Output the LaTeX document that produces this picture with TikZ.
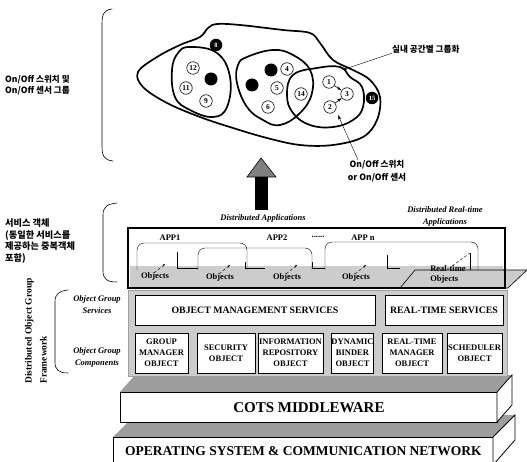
\documentclass[tikz,border=0pt]{standalone}
\usepackage{fontspec}
\setmainfont{Liberation Serif}
\newfontfamily\kor{Noto Sans CJK KR}
\usetikzlibrary{arrows.meta, positioning, calc}
\definecolor{dots}{gray}{0.62}
\definecolor{band}{gray}{0.80}

\tikzset{
  num/.style={circle, draw, semithick, fill=white, inner sep=0pt, minimum size=12.5pt,
    font=\bfseries\fontsize{7.5}{7.5}\selectfont},
  dot/.style={circle, fill=black, inner sep=0pt, minimum size=13pt},
  blk/.style={circle, fill=black, inner sep=0pt, minimum size=12.5pt, text=white,
    font=\bfseries\fontsize{6.5}{6.5}\selectfont},
  region/.style={line width=1.7pt, line join=round},
  kr/.style={font=\kor\bfseries\fontsize{8.6}{11.5}\selectfont, align=left, inner sep=0pt},
  brk/.style={semithick, line cap=round},
  lbl/.style={font=\bfseries\itshape\fontsize{8.5}{12}\selectfont, align=center, inner sep=0pt},
  app/.style={font=\bfseries\fontsize{8.5}{8.5}\selectfont, inner sep=0pt},
  obj/.style={font=\bfseries\fontsize{8.5}{10}\selectfont, align=left, inner sep=1pt},
  comp/.style={draw, semithick, fill=white, font=\bfseries\fontsize{8.5}{11}\selectfont,
    align=center, inner sep=0pt, minimum height=40pt},
  svc/.style={draw, semithick, fill=white, font=\bfseries\fontsize{9.8}{10}\selectfont,
    minimum height=30pt},
  layer/.style={draw, thick, fill=white, inner sep=0pt},
  pointer/.style={thin, -{Stealth[length=5pt, width=3pt]}},
}

\begin{document}
\begin{tikzpicture}[x=1pt, y=-1pt]
  \useasboundingbox (0,0) rectangle (527,462);

  % --- grouping of switches and sensors ---
  \draw[brk] (112,9) .. controls (104,10) and (102,14) .. (102,24) -- (102,146)
    .. controls (102,156) and (104,160) .. (113,161);
  \node[kr, anchor=west] (grp) at (5,85) {On/Off 스위치 및\\On/Off 센서 그룹};

  \draw[region] plot[smooth cycle, tension=0.6] coordinates {
    (138,72) (157,57) (180,45) (200,37) (208,28) (217,24) (240,25) (283,30)
    (310,33) (320,43) (333,60) (353,70) (370,80) (380,97) (377,120) (363,137)
    (333,145) (300,145) (267,138) (233,128) (200,117) (167,103) (143,87)};
  \draw[region] plot[smooth cycle, tension=0.7] coordinates {
    (190,47) (217,53) (230,77) (227,107) (213,117) (190,110) (175,97) (172,70) (178,53)};
  \draw[region] plot[smooth cycle, tension=0.7] coordinates {
    (247,57) (273,50) (293,55) (310,70) (312,93) (300,113) (280,125) (263,120)
    (247,107) (237,83) (238,65)};
  \draw[region] plot[smooth cycle, tension=0.7] coordinates {
    (293,75) (317,68) (340,67) (350,77) (362,87) (363,107) (353,120) (333,127)
    (310,125) (293,113) (287,95)};

  \foreach \n/\x/\y in {12/193/68, 11/186/88, 9/206/101, 4/287/69, 5/277/88,
                        6/268/107, 14/301/94, 1/329/82, 3/347/94, 2/330/107}
    \node[num] (n\n) at (\x,\y) {\n};
  \foreach \i/\x/\y in {a/211/79, b/271/70, c/252/85}
    \node[dot] (d\i) at (\x,\y) {};
  \node[blk] (n8) at (216,45) {8};
  \node[blk] (n15) at (372,98) {15};
  \draw[pointer, semithick] (n1) -- (n3);
  \draw[pointer, semithick] (n2) -- (n3);

  \node[kr, anchor=west] (room) at (392,49) {실내 공간별 그룹화};
  \coordinate (roomtip) at (342,70);
  \draw[pointer] (room.south west) -- (roomtip);
  \node[kr, align=center, font=\kor\bfseries\fontsize{8.6}{13}\selectfont] (dev) at (377,171)
    {On/Off 스위치\\or On/Off 센서};
  \coordinate (devtip) at (338,115);
  \draw[pointer] ($(dev.north)+(-19,0)$) -- (devtip);

  % --- up arrow ---
  \fill[black] (255,176) rectangle (268,210);
  \filldraw[fill=black!50, draw=black, semithick]
    (261,158) -- (276,177) -- (247,177) -- cycle;

  % --- service objects ---
  \draw[brk] (117,203) .. controls (107,204) and (103,207) .. (103,215) -- (103,271)
    .. controls (103,279) and (107,282) .. (117,282);
  \node[kr, anchor=west, font=\kor\bfseries\fontsize{9.2}{11.8}\selectfont] (svcobj) at (5,241)
    {서비스 객체\\(동일한 서비스를\\제공하는 중복객체\\포함)};
  \node[lbl] (dapp) at (263,218) {Distributed Applications};
  \node[lbl] (drt) at (445,216) {Distributed Real-time\\Applications};

  \filldraw[fill=band, draw=black, semithick] (400,288) -- (415,270) -- (527,270) -- (508,288) -- cycle;
  \fill[band] (130,266) rectangle (503,287);
  \draw[semithick] (400,288) -- (415,270) -- (505,270);
  \draw[line width=2.6pt] (128,228) rectangle (505,288);

  \node[app] (app1) at (170,238) {APP1};
  \node[app] (app2) at (277,238) {APP2};
  \node[app] (appdots) at (318,237) {......};
  \node[app] (appn) at (363,238) {APP n};
  \draw[thin, rounded corners=7pt] (137,270) -- (137,243) -- (247,243) -- (247,270);
  \draw[thin, rounded corners=7pt] (198,270) -- (198,248) -- (312,248) -- (312,270);
  \draw[thin, rounded corners=7pt] (325,270) -- (325,242) -- (478,242) -- (478,270);

  \node[obj] (o1) at (155,276) {Objects};
  \node[obj] (o2) at (220,277) {Objects};
  \node[obj] (o3) at (287,277) {Objects};
  \node[obj] (o4) at (356,277) {Objects};
  \node[obj] (rto) at (448,274) {Real-time\\Objects};
  \foreach \o/\rx/\ty/\nx in {o1/177/252/198, o2/245/262/265, o3/312/262/325, o4/387/255/400} {
    \draw[thin, densely dashed, -{Stealth[length=3pt, width=2pt]}]
      ($(\o.north east)+(-16,2)$) -- ++(11,-9);
    \draw[thin] (\rx,\ty) -- (\rx,268) -- (\nx,268);
  }
  \draw[thin, densely dashed] (452,266) -- (470,253);
  \draw[thin] (470,253) -- (470,270);

  % --- distributed object group framework ---
  \draw[brk] (68,290) .. controls (59,291) and (55,294) .. (55,302) -- (55,362)
    .. controls (55,370) and (59,373) .. (68,373);
  \node[lbl] (ogs) at (97,305) {Object Group\\Services};
  \node[lbl] (ogc) at (97,357) {Object Group\\Components};
  \node[rotate=90, anchor=west, align=left, inner sep=0pt,
    font=\bfseries\fontsize{9.5}{15}\selectfont] (dogf) at (36,384)
    {Distributed Object Group\\Framework};

  % --- layers ---
  \fill[dots] (113,437) -- (493,437) -- (515,415) -- (135,415) -- cycle;
  \node[layer, minimum width=380pt, minimum height=28pt, anchor=north west,
    font=\bfseries\fontsize{13.5}{14}\selectfont] (osn) at (113,437)
    {OPERATING SYSTEM \& COMMUNICATION NETWORK};
  \filldraw[fill=white, draw=black, thick] (493,437) -- (515,415) -- (515,440) -- (493,465) -- cycle;

  \fill[dots] (120,392) -- (497,392) -- (512,375) -- (135,375) -- cycle;
  \node[layer, minimum width=377pt, minimum height=30pt, anchor=north west,
    font=\bfseries\fontsize{15}{15}\selectfont] (cots) at (120,392) {COTS MIDDLEWARE};
  \filldraw[fill=white, draw=black, thick] (497,392) -- (512,375) -- (512,405) -- (497,422) -- cycle;

  \filldraw[fill=band, draw=dots, thick] (128,290) rectangle (507,376);
  \node[svc, minimum width=240pt] (oms) at (255,310) {OBJECT MANAGEMENT SERVICES};
  \node[svc, minimum width=118pt] (rts) at (444,310) {REAL-TIME SERVICES};
  \node[comp, minimum width=53pt] (gmo) at (161.5,353) {GROUP\\MANAGER\\OBJECT};
  \node[comp, minimum width=58pt] (sec) at (226,353) {SECURITY\\OBJECT};
  \node[comp, minimum width=65pt] (inf) at (290.5,353) {INFORMATION\\REPOSITORY\\OBJECT};
  \node[comp, minimum width=41pt] (dyn) at (352.5,353) {DYNAMIC\\BINDER\\OBJECT};
  \node[comp, minimum width=60pt] (rtm) at (412,353) {REAL-TIME\\MANAGER\\OBJECT};
  \node[comp, minimum width=55pt] (sch) at (474.5,353) {SCHEDULER\\OBJECT};
\end{tikzpicture}
\end{document}
